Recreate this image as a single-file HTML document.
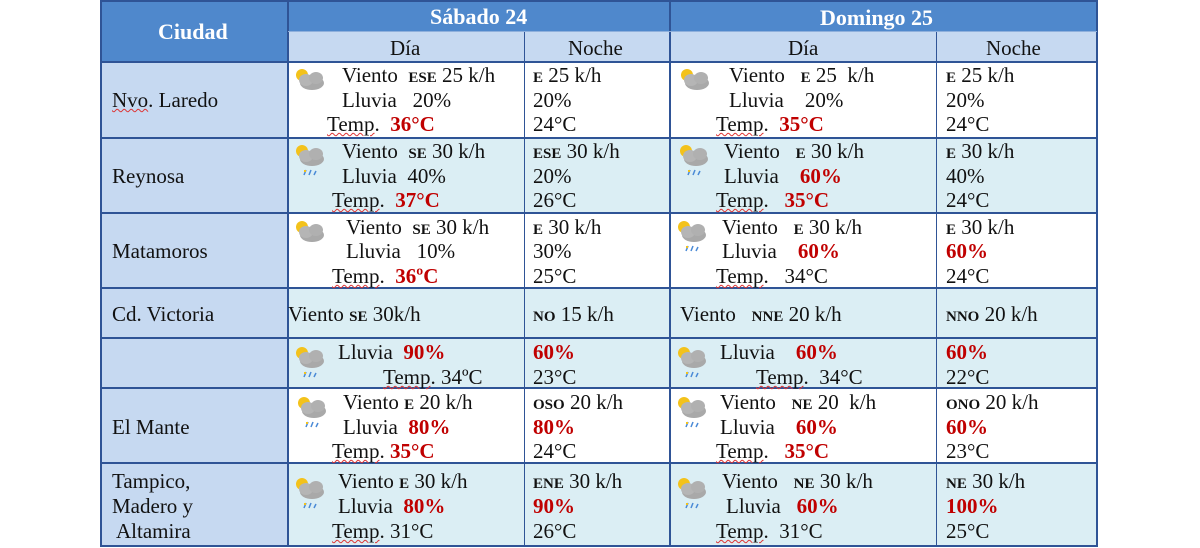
<!DOCTYPE html>
<html><head><meta charset="utf-8"><style>
body{margin:0;width:1200px;height:548px;background:#fff;position:relative;overflow:hidden;font-family:"Liberation Serif",serif;}
.b{position:absolute;}
.t{position:absolute;font-size:21px;line-height:24px;white-space:nowrap;color:#111;}
.r{color:#c00000;font-weight:bold}
.c{font-size:15px;font-weight:bold}
.u{text-decoration:underline wavy #d33 1px;text-underline-offset:1px}
.h{color:#fff;font-weight:bold;font-size:22px}
.hl{position:absolute;background:#2f5496}
.ic{position:absolute;width:34px;height:40px}
</style></head><body>
<div class="b" style="left:101px;top:0;width:996px;height:32px;background:#4f88cc"></div>
<div class="b" style="left:101px;top:32px;width:187px;height:30px;background:#4f88cc"></div>
<div class="b" style="left:288px;top:32px;width:809px;height:30px;background:#c6d9f1"></div>
<div class="b" style="left:101px;top:62px;width:187px;height:484px;background:#c6d9f1"></div>
<div class="b" style="left:288px;top:138px;width:809px;height:75px;background:#dbeef4"></div>
<div class="b" style="left:288px;top:288px;width:809px;height:100px;background:#dbeef4"></div>
<div class="b" style="left:288px;top:463px;width:809px;height:83px;background:#dbeef4"></div>
<div class="hl" style="left:100px;top:0;width:2px;height:547px"></div>
<div class="hl" style="left:1096px;top:0;width:2px;height:547px"></div>
<div class="hl" style="left:100px;top:0;width:998px;height:2px"></div>
<div class="hl" style="left:100px;top:545px;width:998px;height:2px"></div>
<div class="hl" style="left:287px;top:0;width:2px;height:547px"></div>
<div class="hl" style="left:669px;top:0;width:2px;height:547px"></div>
<div class="hl" style="left:524px;top:32px;width:1px;height:514px"></div>
<div class="hl" style="left:936px;top:32px;width:1px;height:514px"></div>
<div class="hl" style="left:288px;top:31px;width:809px;height:1px;background:#8fb0dc"></div>
<div class="hl" style="left:100px;top:61px;width:998px;height:2px"></div>
<div class="hl" style="left:100px;top:137px;width:998px;height:2px"></div>
<div class="hl" style="left:100px;top:212px;width:998px;height:2px"></div>
<div class="hl" style="left:100px;top:287px;width:998px;height:2px"></div>
<div class="hl" style="left:100px;top:337px;width:998px;height:2px"></div>
<div class="hl" style="left:100px;top:387px;width:998px;height:2px"></div>
<div class="hl" style="left:100px;top:462px;width:998px;height:2px"></div>
<div class="t h" style="left:158px;top:20px">Ciudad</div>
<div class="t h" style="left:430px;top:5px">Sábado 24</div>
<div class="t h" style="left:820px;top:6px">Domingo 25</div>
<div class="t" style="left:390px;top:36px">Día</div>
<div class="t" style="left:568px;top:36px">Noche</div>
<div class="t" style="left:788px;top:36px">Día</div>
<div class="t" style="left:986px;top:36px">Noche</div>
<div class="t" style="left:112px;top:88px"><span class="u">Nvo</span>. Laredo</div>
<div class="t" style="left:112px;top:164px">Reynosa</div>
<div class="t" style="left:112px;top:239px">Matamoros</div>
<div class="t" style="left:112px;top:302px">Cd. Victoria</div>
<div class="t" style="left:112px;top:415px">El Mante</div>
<div class="t" style="left:112px;top:469px">Tampico,</div>
<div class="t" style="left:112px;top:494px">Madero y</div>
<div class="t" style="left:116px;top:519px">Altamira</div>

<svg width="0" height="0" style="position:absolute"><defs>
<g id="cl"><circle cx="10" cy="9" r="6" fill="#f3c21b"/><ellipse cx="20" cy="17" rx="12" ry="7" fill="#a9a9a9"/><ellipse cx="14" cy="14" rx="7" ry="6" fill="#b5b5b5"/><ellipse cx="24" cy="12" rx="7" ry="6" fill="#b0b0b0"/></g>
<g id="rn"><use href="#cl"/><path d="M14 28 l-2 5 M19 28 l-2 5 M24 29 l-2 4" stroke="#4a8ad6" stroke-width="1.5"/><path d="M12 29 l2 0" stroke="#f3c21b" stroke-width="2"/></g>
</defs></svg>
<svg class="ic" style="left:292px;top:66px"><use href="#cl"/></svg>
<svg class="ic" style="left:292px;top:142px"><use href="#rn"/></svg>
<svg class="ic" style="left:292px;top:218px"><use href="#cl"/></svg>
<svg class="ic" style="left:292px;top:344px"><use href="#rn"/></svg>
<svg class="ic" style="left:294px;top:394px"><use href="#rn"/></svg>
<svg class="ic" style="left:292px;top:475px"><use href="#rn"/></svg>
<svg class="ic" style="left:677px;top:66px"><use href="#cl"/></svg>
<svg class="ic" style="left:676px;top:142px"><use href="#rn"/></svg>
<svg class="ic" style="left:674px;top:218px"><use href="#rn"/></svg>
<svg class="ic" style="left:674px;top:344px"><use href="#rn"/></svg>
<svg class="ic" style="left:674px;top:394px"><use href="#rn"/></svg>
<svg class="ic" style="left:674px;top:475px"><use href="#rn"/></svg>

<div class="t" style="left:342px;top:63px">Viento&nbsp; <span class="c">ESE</span> 25 k/h</div>
<div class="t" style="left:342px;top:88px">Lluvia&nbsp;&nbsp; 20%</div>
<div class="t" style="left:327px;top:112px"><span class="u">Temp</span>.&nbsp; <span class="r">36°C</span></div>
<div class="t" style="left:533px;top:63px"><span class="c">E</span> 25 k/h</div>
<div class="t" style="left:533px;top:88px">20%</div>
<div class="t" style="left:533px;top:112px">24°C</div>
<div class="t" style="left:729px;top:63px">Viento&nbsp;&nbsp; <span class="c">E</span> 25&nbsp; k/h</div>
<div class="t" style="left:729px;top:88px">Lluvia&nbsp;&nbsp;&nbsp; 20%</div>
<div class="t" style="left:716px;top:112px"><span class="u">Temp</span>.&nbsp; <span class="r">35°C</span></div>
<div class="t" style="left:946px;top:63px"><span class="c">E</span> 25 k/h</div>
<div class="t" style="left:946px;top:88px">20%</div>
<div class="t" style="left:946px;top:112px">24°C</div>
<div class="t" style="left:342px;top:139px">Viento&nbsp; <span class="c">SE</span> 30 k/h</div>
<div class="t" style="left:342px;top:164px">Lluvia&nbsp; 40%</div>
<div class="t" style="left:332px;top:188px"><span class="u">Temp</span>.&nbsp; <span class="r">37°C</span></div>
<div class="t" style="left:533px;top:139px"><span class="c">ESE</span> 30 k/h</div>
<div class="t" style="left:533px;top:164px">20%</div>
<div class="t" style="left:533px;top:188px">26°C</div>
<div class="t" style="left:724px;top:139px">Viento&nbsp;&nbsp; <span class="c">E</span> 30 k/h</div>
<div class="t" style="left:724px;top:164px">Lluvia&nbsp;&nbsp;&nbsp; <span class="r">60%</span></div>
<div class="t" style="left:716px;top:188px"><span class="u">Temp</span>.&nbsp;&nbsp; <span class="r">35°C</span></div>
<div class="t" style="left:946px;top:139px"><span class="c">E</span> 30 k/h</div>
<div class="t" style="left:946px;top:164px">40%</div>
<div class="t" style="left:946px;top:188px">24°C</div>
<div class="t" style="left:346px;top:215px">Viento&nbsp; <span class="c">SE</span> 30 k/h</div>
<div class="t" style="left:346px;top:239px">Lluvia&nbsp;&nbsp; 10%</div>
<div class="t" style="left:332px;top:264px"><span class="u">Temp</span>.&nbsp; <span class="r">36ºC</span></div>
<div class="t" style="left:533px;top:215px"><span class="c">E</span> 30 k/h</div>
<div class="t" style="left:533px;top:239px">30%</div>
<div class="t" style="left:533px;top:264px">25°C</div>
<div class="t" style="left:722px;top:215px">Viento&nbsp;&nbsp; <span class="c">E</span> 30 k/h</div>
<div class="t" style="left:722px;top:239px">Lluvia&nbsp;&nbsp;&nbsp; <span class="r">60%</span></div>
<div class="t" style="left:716px;top:264px"><span class="u">Temp</span>.&nbsp;&nbsp; 34°C</div>
<div class="t" style="left:946px;top:215px"><span class="c">E</span> 30 k/h</div>
<div class="t" style="left:946px;top:239px"><span class="r">60%</span></div>
<div class="t" style="left:946px;top:264px">24°C</div>
<div class="t" style="left:288px;top:302px">Viento <span class="c">SE</span> 30k/h</div>
<div class="t" style="left:533px;top:302px"><span class="c">NO</span> 15 k/h</div>
<div class="t" style="left:680px;top:302px">Viento&nbsp;&nbsp; <span class="c">NNE</span> 20 k/h</div>
<div class="t" style="left:946px;top:302px"><span class="c">NNO</span> 20 k/h</div>
<div class="t" style="left:338px;top:340px">Lluvia&nbsp; <span class="r">90%</span></div>
<div class="t" style="left:383px;top:365px"><span class="u">Temp</span>. 34ºC</div>
<div class="t" style="left:533px;top:340px"><span class="r">60%</span></div>
<div class="t" style="left:533px;top:365px">23°C</div>
<div class="t" style="left:720px;top:340px">Lluvia&nbsp;&nbsp;&nbsp; <span class="r">60%</span></div>
<div class="t" style="left:756px;top:365px"><span class="u">Temp</span>.&nbsp; 34°C</div>
<div class="t" style="left:946px;top:340px"><span class="r">60%</span></div>
<div class="t" style="left:946px;top:365px">22°C</div>
<div class="t" style="left:343px;top:390px">Viento <span class="c">E</span> 20 k/h</div>
<div class="t" style="left:343px;top:415px">Lluvia&nbsp; <span class="r">80%</span></div>
<div class="t" style="left:332px;top:439px"><span class="u">Temp</span>. <span class="r">35°C</span></div>
<div class="t" style="left:533px;top:390px"><span class="c">OSO</span> 20 k/h</div>
<div class="t" style="left:533px;top:415px"><span class="r">80%</span></div>
<div class="t" style="left:533px;top:439px">24°C</div>
<div class="t" style="left:720px;top:390px">Viento&nbsp;&nbsp; <span class="c">NE</span> 20&nbsp; k/h</div>
<div class="t" style="left:720px;top:415px">Lluvia&nbsp;&nbsp;&nbsp; <span class="r">60%</span></div>
<div class="t" style="left:716px;top:439px"><span class="u">Temp</span>.&nbsp;&nbsp; <span class="r">35°C</span></div>
<div class="t" style="left:946px;top:390px"><span class="c">ONO</span> 20 k/h</div>
<div class="t" style="left:946px;top:415px"><span class="r">60%</span></div>
<div class="t" style="left:946px;top:439px">23°C</div>
<div class="t" style="left:338px;top:469px">Viento <span class="c">E</span> 30 k/h</div>
<div class="t" style="left:338px;top:494px">Lluvia&nbsp; <span class="r">80%</span></div>
<div class="t" style="left:332px;top:519px"><span class="u">Temp</span>. 31°C</div>
<div class="t" style="left:533px;top:469px"><span class="c">ENE</span> 30 k/h</div>
<div class="t" style="left:533px;top:494px"><span class="r">90%</span></div>
<div class="t" style="left:533px;top:519px">26°C</div>
<div class="t" style="left:722px;top:469px">Viento&nbsp;&nbsp; <span class="c">NE</span> 30 k/h</div>
<div class="t" style="left:726px;top:494px">Lluvia&nbsp;&nbsp; <span class="r">60%</span></div>
<div class="t" style="left:716px;top:519px"><span class="u">Temp</span>.&nbsp; 31°C</div>
<div class="t" style="left:946px;top:469px"><span class="c">NE</span> 30 k/h</div>
<div class="t" style="left:946px;top:494px"><span class="r">100%</span></div>
<div class="t" style="left:946px;top:519px">25°C</div>
</body></html>
